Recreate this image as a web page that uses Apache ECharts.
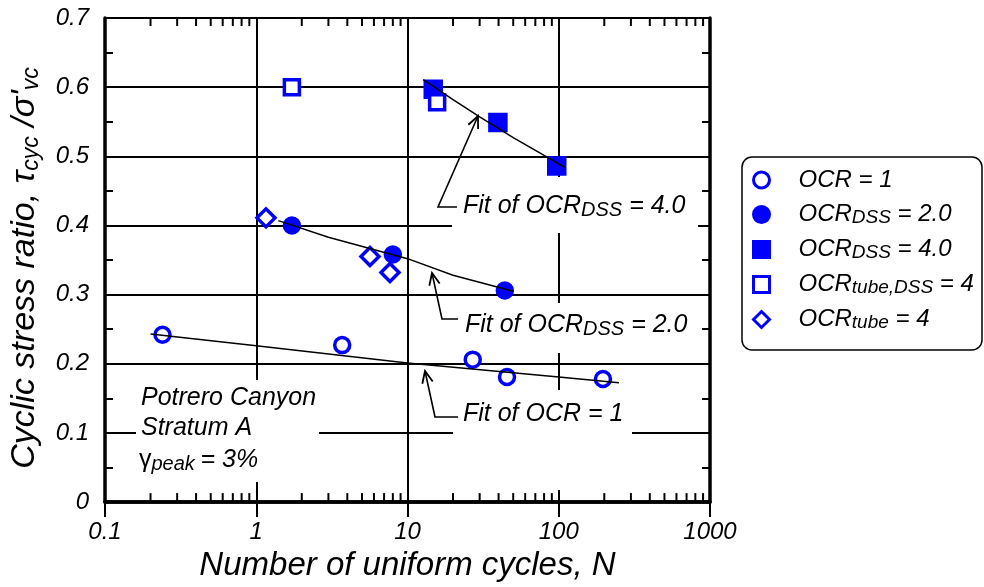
<!DOCTYPE html>
<html><head><meta charset="utf-8">
<script src="https://cdn.jsdelivr.net/npm/echarts@6/dist/echarts.min.js"></script>
<style>html,body{margin:0;padding:0;background:#fff}#c{width:984px;height:587px}</style>
</head><body><div id="c"></div>
<script>
const FONT = "'Liberation Sans', Arial, sans-serif";
const BLUE = '#0000ff';

// tick values
const xMinorTicks = [0.2,0.3,0.4,0.5,0.6,0.7,0.8,0.9, 2,3,4,5,6,7,8,9, 20,30,40,50,60,70,80,90, 200,300,400,500,600,700,800,900];

// data [N, CSR]
const ocr1    = [[0.24,0.242],[3.7,0.227],[27,0.206],[45.5,0.181],[196,0.178]];
const dss2    = [[1.72,0.400],[8.0,0.358],[44,0.306]];
const dss4    = [[14.8,0.597],[39.6,0.549],[97,0.486]];
const tubeDss = [[1.72,0.600],[15.7,0.578]];
const tube    = [[1.16,0.411],[5.65,0.355],[7.66,0.332]];

// fitted curves
const fit1 = [[0.2,0.243],[1,0.226],[10,0.201],[100,0.181],[250,0.1725]];
const fit2 = [[1.4,0.407],[3,0.383],[10,0.352],[20,0.328],[50,0.305]];
const fit4 = [[12.7,0.611],[20,0.582],[30,0.557],[50,0.527],[110,0.484]];

const legendNames = ['OCR = 1','OCR_DSS = 2.0','OCR_DSS = 4.0','OCR_tube,DSS = 4','OCR_tube = 4'];
const legendRich = {
  'OCR = 1': '{sp| }{m|OCR = 1}',
  'OCR_DSS = 2.0': '{sp| }{m|OCR}{s|DSS}{m| = 2.0}',
  'OCR_DSS = 4.0': '{sp| }{m|OCR}{s|DSS}{m| = 4.0}',
  'OCR_tube,DSS = 4': '{sp| }{m|OCR}{s|tube,DSS}{m| = 4}',
  'OCR_tube = 4': '{sp| }{m|OCR}{s|tube}{m| = 4}'
};

const richTxt = {
  m: {fontSize: 25, fontStyle: 'italic', fontFamily: FONT, color: '#000', lineHeight: 28},
  s: {fontSize: 20, fontStyle: 'italic', fontFamily: FONT, color: '#000', lineHeight: 8, verticalAlign: 'bottom'},
  g: {fontSize: 25, fontFamily: FONT, color: '#000', lineHeight: 28}
};
const TICKFONT = "italic 24px 'Liberation Sans', Arial, sans-serif";
const tickRich = {t: {font: TICKFONT, fontSize: 24, fontStyle: 'italic', fontFamily: FONT, color: '#000'}};

const frame = {show: true, lineStyle: {color: '#000', width: 3.5}};
function xAx(pos) {
  const a = {
    type: 'log', logBase: 10, min: 0.1, max: 1000, position: pos,
    axisLine: frame,
    splitLine: {show: pos === 'bottom', lineStyle: {color: '#000', width: 2}},
    axisLabel: {show: pos === 'bottom', margin: 18, rich: tickRich, fontStyle: 'italic', fontSize: 24, fontFamily: FONT, color: '#000',
      formatter: v => '{t|' + (v < 0.5 ? '0.1' : String(Math.round(v))) + '}'},
    axisTick: {show: true, inside: true, length: 15, lineStyle: {color: '#000', width: 2}}
  };
  if (pos === 'bottom') {
    a.name = 'Number of uniform cycles, N';
    a.nameLocation = 'middle';
    a.nameGap = 44;
    a.nameTextStyle = {fontSize: 33, fontStyle: 'italic', fontFamily: FONT, color: '#000'};
  }
  return a;
}
function yAx(pos) {
  const a = {
    type: 'value', min: 0, max: 0.7, interval: 0.1, position: pos,
    axisLine: frame,
    splitLine: {show: pos === 'left', lineStyle: {color: '#000', width: 2}},
    axisTick: {show: true, inside: true, length: 8, lineStyle: {color: '#000', width: 2}},
    minorTick: {show: true, splitNumber: 2, length: 8, lineStyle: {color: '#000', width: 2}},
    axisLabel: {show: pos === 'left', margin: 16, rich: tickRich, fontStyle: 'italic', fontSize: 24, fontFamily: FONT, color: '#000',
      formatter: v => '{t|' + (Math.abs(v) < 1e-9 ? '0' : v.toFixed(1)) + '}'}
  };
  if (pos === 'left') {
    a.name = "{m|Cyclic stress ratio, τ}{s|cyc}{m| /σ'}{s|vc}";
    a.nameLocation = 'middle';
    a.nameGap = 62;
    a.nameTextStyle = {padding: [0, 16, 0, 0], rich: {
      m: {fontSize: 34, fontStyle: 'italic', fontFamily: FONT, color: '#000', lineHeight: 36},
      s: {fontSize: 23, fontStyle: 'italic', fontFamily: FONT, color: '#000', lineHeight: 10, verticalAlign: 'bottom'}
    }};
  }
  return a;
}

function scat(name, data, symbol, size, filled) {
  return {
    name, type: 'scatter', data, symbol, symbolSize: size, xAxisIndex: 0, yAxisIndex: 0, z: 4,
    itemStyle: {color: filled ? BLUE : '#fff', borderColor: BLUE, borderWidth: 3.5, opacity: 1}
  };
}
function fit(data) {
  return {type: 'line', data, symbol: 'none', xAxisIndex: 0, yAxisIndex: 0, z: 5, silent: true,
    lineStyle: {color: '#000', width: 1.5}};
}

// minor log ticks on bottom and top edges, positioned through the axis scale
const minorTickSeries = {
  type: 'custom', xAxisIndex: 0, yAxisIndex: 0, silent: true, clip: false, z: 6,
  data: xMinorTicks.map(v => [v, 0]),
  encode: {x: 0, y: 1},
  renderItem: (params, api) => {
    const b = api.coord([api.value(0), 0]);
    const t = api.coord([api.value(0), 0.7]);
    const st = {stroke: '#000', lineWidth: 2};
    return {type: 'group', children: [
      {type: 'line', shape: {x1: b[0], y1: b[1], x2: b[0], y2: b[1] - 9}, style: st},
      {type: 'line', shape: {x1: t[0], y1: t[1], x2: t[0], y2: t[1] + 8}, style: st}
    ]};
  }
};

// annotation arrows: [end, corner, tip] in pixels
const arrows = [
  [[457,207],[438,207],[478,116]],
  [[458,319],[442,319],[432,273]],
  [[458,417],[435,417],[425,371]]
];
const graphics = [];
// white boxes behind labels (cover grid lines)
[[452,177,246,56],[452,303,246,50],[453,390,179,100],[136,380,183,102]].forEach(b => {
  graphics.push({type: 'rect', z: 1, shape: {x: b[0], y: b[1], width: b[2], height: b[3]}, style: {fill: '#fff'}, silent: true});
});
arrows.forEach(a => {
  graphics.push({type: 'polyline', z: 5, shape: {points: a}, style: {stroke: '#000', lineWidth: 1.6, fill: null}});
  const tip = a[2], c = a[1];
  const dx = tip[0]-c[0], dy = tip[1]-c[1], L = Math.hypot(dx, dy);
  const ux = dx/L, uy = dy/L, len = 13, ang = 0.42;
  const w = s => [tip[0] - len*(ux*Math.cos(ang) - s*uy*Math.sin(ang)), tip[1] - len*(uy*Math.cos(ang) + s*ux*Math.sin(ang))];
  graphics.push({type: 'polyline', z: 5, shape: {points: [w(1), tip, w(-1)]}, style: {stroke: '#000', lineWidth: 1.8, fill: null}});
});
const texts = [
  ['{m|Fit of OCR}{s|DSS}{m| = 4.0}', 463, 206],
  ['{m|Fit of OCR}{s|DSS}{m| = 2.0}', 465, 325],
  ['{m|Fit of OCR = 1}', 463, 414],
  ['{m|Potrero Canyon}', 141, 398],
  ['{m|Stratum A}', 141, 428],
  ['{g|γ}{s|peak }{m|= 3%}', 139, 460]
];
texts.forEach(t => {
  graphics.push({type: 'text', z: 6, style: {text: t[0], x: t[1], y: t[2], rich: richTxt, verticalAlign: 'middle', align: 'left'}});
});
// legend frame
graphics.push({type: 'rect', z: 0, shape: {x: 742, y: 157, width: 240, height: 193, r: 10}, style: {fill: '#fff', stroke: '#000', lineWidth: 1.5}});

const option = {
  backgroundColor: '#fff',
  animation: false,
  grid: {left: 105, top: 18, right: 274, bottom: 82},
  xAxis: [xAx('bottom'), xAx('top')],
  yAxis: [yAx('left'), yAx('right')],
  legend: {
    data: legendNames, orient: 'vertical', left: 752, top: 168, padding: 0,
    itemWidth: 16, itemHeight: 16, itemGap: 10.5,
    itemStyle: {borderWidth: 3},
    formatter: n => legendRich[n],
    textStyle: {rich: {
      sp: {width: 24, fontSize: 10},
      m: {fontSize: 24, fontStyle: 'italic', fontFamily: FONT, color: '#000', lineHeight: 25},
      s: {fontSize: 19, fontStyle: 'italic', fontFamily: FONT, color: '#000', lineHeight: 4, verticalAlign: 'bottom'}
    }},
    selectedMode: false
  },
  graphic: graphics,
  series: [
    fit(fit1), fit(fit2), fit(fit4),
    scat('OCR = 1', ocr1, 'circle', 15, false),
    scat('OCR_DSS = 2.0', dss2, 'circle', 15, true),
    scat('OCR_DSS = 4.0', dss4, 'rect', 16, true),
    scat('OCR_tube,DSS = 4', tubeDss, 'rect', 15, false),
    scat('OCR_tube = 4', tube, 'diamond', 18, false),
    minorTickSeries
  ]
};
const chart = echarts.init(document.getElementById('c'));
chart.setOption(option);
</script></body></html>
